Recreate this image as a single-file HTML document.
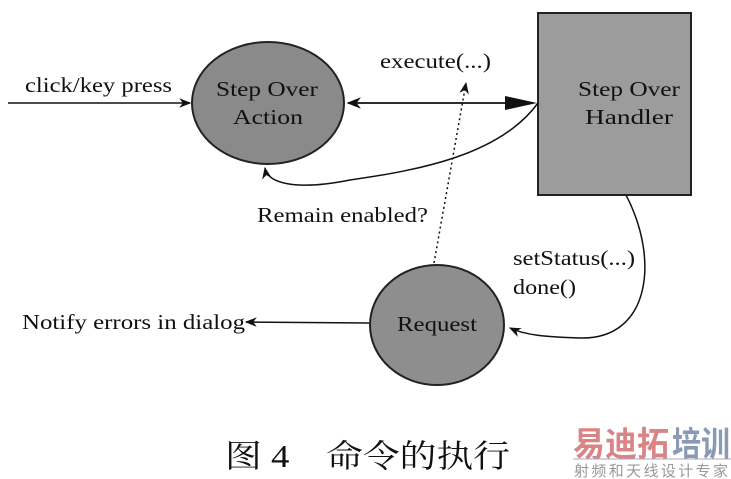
<!DOCTYPE html>
<html><head><meta charset="utf-8"><style>
html,body{margin:0;padding:0;background:#fff;}
svg{display:block}
text{font-family:"Liberation Serif","Noto Serif CJK SC",serif;fill:#111}
</style></head><body>
<svg width="731" height="479" viewBox="0 0 731 479" xmlns="http://www.w3.org/2000/svg">
<defs>
<marker id="a" viewBox="0 0 10 10" refX="9" refY="5" markerWidth="8" markerHeight="8" orient="auto-start-reverse"><path d="M0,1 L10,5 L0,9 L3,5 Z" fill="#111"/></marker>
</defs>
<!-- nodes -->
<ellipse cx="268" cy="103" rx="76" ry="61" fill="#8a8a8a" stroke="#222" stroke-width="2"/>
<rect x="538" y="13" width="153" height="182" fill="#9c9c9c" stroke="#222" stroke-width="2"/>
<ellipse cx="437" cy="325" rx="67" ry="60" fill="#8e8e8e" stroke="#222" stroke-width="2"/>
<text x="267" y="96" font-size="21" text-anchor="middle" textLength="102" lengthAdjust="spacingAndGlyphs">Step Over</text>
<text x="268" y="124" font-size="21" text-anchor="middle" textLength="70" lengthAdjust="spacingAndGlyphs">Action</text>
<text x="629" y="96" font-size="21" text-anchor="middle" textLength="102" lengthAdjust="spacingAndGlyphs">Step Over</text>
<text x="629" y="124" font-size="21" text-anchor="middle" textLength="88" lengthAdjust="spacingAndGlyphs">Handler</text>
<text x="437" y="331" font-size="21" text-anchor="middle" textLength="80" lengthAdjust="spacingAndGlyphs">Request</text>
<!-- connectors -->
<line x1="8" y1="103" x2="190" y2="103" stroke="#111" stroke-width="1.5" marker-end="url(#a)"/>
<line x1="348" y1="103" x2="510" y2="103" stroke="#111" stroke-width="1.8" marker-start="url(#a)"/>
<polygon points="505,96 537,103 505,110" fill="#111"/>
<path d="M538,103 C500,155 420,170 350,180 C300,190 268,185 265,168" fill="none" stroke="#111" stroke-width="1.5" marker-end="url(#a)"/>
<line x1="434" y1="263" x2="466" y2="83" stroke="#111" stroke-width="1.5" stroke-dasharray="2,3" marker-end="url(#a)"/>
<path d="M626,195 C660,260 650,340 580,338 C545,337 525,335 510,328" fill="none" stroke="#111" stroke-width="1.5" marker-end="url(#a)"/>
<line x1="369" y1="323" x2="246" y2="322" stroke="#111" stroke-width="1.5" marker-end="url(#a)"/>
<!-- labels -->
<text x="25" y="92" font-size="21" textLength="147" lengthAdjust="spacingAndGlyphs">click/key press</text>
<text x="380" y="68" font-size="21" textLength="111" lengthAdjust="spacingAndGlyphs">execute(...)</text>
<text x="257" y="222" font-size="21" textLength="171" lengthAdjust="spacingAndGlyphs">Remain enabled?</text>
<text x="513" y="265" font-size="21" textLength="122" lengthAdjust="spacingAndGlyphs">setStatus(...)</text>
<text x="513" y="294" font-size="21" textLength="63" lengthAdjust="spacingAndGlyphs">done()</text>
<text x="22" y="329" font-size="21" textLength="223" lengthAdjust="spacingAndGlyphs">Notify errors in dialog</text>
<text x="225" y="467" font-size="32" textLength="285" lengthAdjust="spacingAndGlyphs">图 4　命令的执行</text>
<text x="573" y="456" font-size="34" font-weight="bold" style="fill:#d98585;font-family:'Noto Sans CJK SC',sans-serif" textLength="96" lengthAdjust="spacingAndGlyphs">易迪拓</text>
<text x="672" y="456" font-size="34" font-weight="bold" style="fill:#8a9ab5;font-family:'Noto Sans CJK SC',sans-serif" textLength="58" lengthAdjust="spacingAndGlyphs">培训</text>
<line x1="573" y1="459" x2="731" y2="459" stroke="#aab" stroke-width="1"/>
<text x="574" y="476" font-size="15" style="fill:#999;font-family:'Noto Sans CJK SC',sans-serif" textLength="154">射频和天线设计专家</text>
</svg>
</body></html>
